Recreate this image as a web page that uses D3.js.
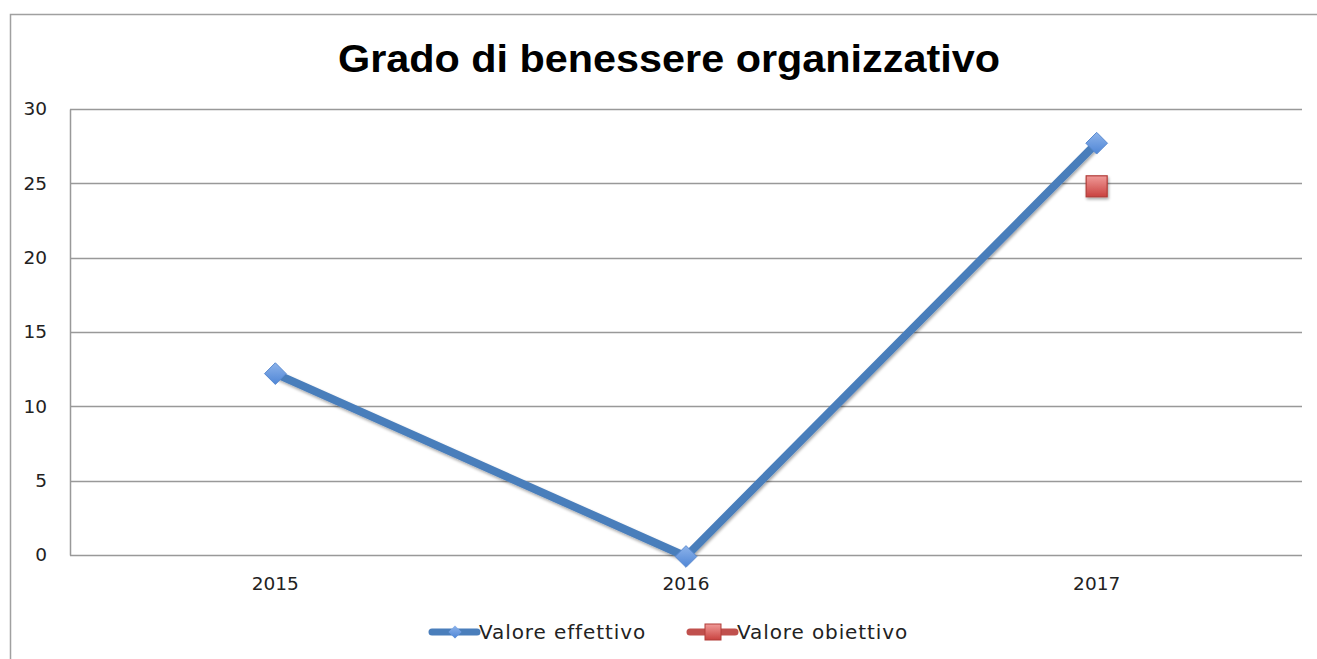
<!DOCTYPE html>
<html>
<head>
<meta charset="utf-8">
<script src="https://cdn.jsdelivr.net/npm/d3@7"></script>
<style>
  body { margin: 0; background: #fff; }
  svg { display: block; }
  .tick text { font-family: "DejaVu Sans", sans-serif; font-size: 18.5px; fill: #222; }
</style>
</head>
<body>
<div id="chart"></div>
<script>
// chart data
const years = ["2015", "2016", "2017"];
const valoreEffettivo = [12.2, -0.1, 27.7];
const valoreObiettivo = [null, null, 24.8];
const yTicks = [0, 5, 10, 15, 20, 25, 30];
const seriesNames = ["Valore effettivo", "Valore obiettivo"];

const W = 1317, H = 659;
const margin = {top: 109, right: 15, bottom: 104, left: 70};
const width = W - margin.left - margin.right;
const height = H - margin.top - margin.bottom;

const blue = "#4a7ebb", red = "#c0504d";

const svg = d3.select("#chart").append("svg")
    .attr("width", W)
    .attr("height", H);

// outer frame
svg.append("rect")
    .attr("x", 10.5).attr("y", 14.5)
    .attr("width", W + 20).attr("height", H + 20)
    .attr("fill", "none")
    .attr("stroke", "#a0a0a0")
    .attr("stroke-width", 1.5);

// title
svg.append("text")
    .attr("x", 669).attr("y", 72)
    .attr("text-anchor", "middle")
    .attr("textLength", 662)
    .attr("lengthAdjust", "spacingAndGlyphs")
    .style("font-family", "'Liberation Sans', Arial, sans-serif")
    .style("font-weight", "bold")
    .style("font-size", "38px")
    .style("fill", "#000")
    .text("Grado di benessere organizzativo");

const g = svg.append("g")
    .attr("transform", `translate(${margin.left},${margin.top})`);

// scales
const x = d3.scaleBand().domain(years).range([0, width]);
const y = d3.scaleLinear().domain([0, 30]).range([height, 0]);

// gridlines
g.selectAll("line.grid")
    .data(yTicks)
    .enter().append("line")
    .attr("class", "grid")
    .attr("x1", 0).attr("x2", width)
    .attr("y1", d => Math.round(y(d)) + 0.5)
    .attr("y2", d => Math.round(y(d)) + 0.5)
    .attr("stroke", "#999")
    .attr("stroke-width", 1.5);

// axes
const yAxis = g.append("g")
    .call(d3.axisLeft(y).tickValues(yTicks).tickSize(0).tickPadding(23));
yAxis.select(".domain").attr("stroke", "#999").attr("stroke-width", 1.5);

const xAxis = g.append("g")
    .attr("transform", `translate(0,${height})`)
    .call(d3.axisBottom(x).tickSize(0).tickPadding(22));
xAxis.select(".domain").remove();

// shadow filter
const defs = svg.append("defs");
const f = defs.append("filter").attr("id", "shadow").attr("x", "-20%").attr("y", "-20%").attr("width", "150%").attr("height", "150%");
f.append("feGaussianBlur").attr("in", "SourceAlpha").attr("stdDeviation", 1.5);
f.append("feOffset").attr("dx", 1).attr("dy", 2).attr("result", "ob");
f.append("feComponentTransfer").append("feFuncA").attr("type", "linear").attr("slope", 0.35);
const fm = f.append("feMerge");
fm.append("feMergeNode");
fm.append("feMergeNode").attr("in", "SourceGraphic");

const gradB = defs.append("linearGradient").attr("id", "gb").attr("x1", 0).attr("y1", 0).attr("x2", 0).attr("y2", 1);
gradB.append("stop").attr("offset", "0%").attr("stop-color", "#8db3ea");
gradB.append("stop").attr("offset", "100%").attr("stop-color", "#4f86d6");
const gradR = defs.append("linearGradient").attr("id", "gr").attr("x1", 0).attr("y1", 0).attr("x2", 0).attr("y2", 1);
gradR.append("stop").attr("offset", "0%").attr("stop-color", "#f09a98");
gradR.append("stop").attr("offset", "100%").attr("stop-color", "#c9423f");

const cx = d => x(d) + x.bandwidth() / 2;

// effettivo line
const line = d3.line()
    .defined(d => d.v != null)
    .x(d => cx(d.year))
    .y(d => y(d.v));

const effData = years.map((yr, i) => ({year: yr, v: valoreEffettivo[i]}));
g.append("path")
    .datum(effData)
    .attr("d", line)
    .attr("fill", "none")
    .attr("stroke", blue)
    .attr("stroke-width", 8)
    .attr("stroke-linejoin", "round")
    .attr("filter", "url(#shadow)");

const diamond = d3.symbol().type(d3.symbolDiamond2).size(300);
g.selectAll("path.dia")
    .data(effData)
    .enter().append("path")
    .attr("class", "dia")
    .attr("d", diamond)
    .attr("transform", d => `translate(${cx(d.year)},${y(d.v)})`)
    .attr("fill", "url(#gb)")
    .attr("stroke", "#5a8ad0")
    .attr("stroke-width", 1);

// obiettivo markers
const objData = years.map((yr, i) => ({year: yr, v: valoreObiettivo[i]})).filter(d => d.v != null);
g.selectAll("rect.sq")
    .data(objData)
    .enter().append("rect")
    .attr("class", "sq")
    .attr("x", d => cx(d.year) - 10.5)
    .attr("y", d => y(d.v) - 10.5)
    .attr("width", 21).attr("height", 21)
    .attr("fill", "url(#gr)")
    .attr("stroke", "#b13c39")
    .attr("stroke-width", 1.2)
    .attr("filter", "url(#shadow)");

// legend
const legend = svg.append("g").attr("transform", "translate(0,632)");
const legItems = [
    {name: seriesNames[0], color: blue, x0: 430, marker: "dia"},
    {name: seriesNames[1], color: red, x0: 688, marker: "sq"}
];
legItems.forEach(it => {
    const lg = legend.append("g").attr("transform", `translate(${it.x0},0)`);
    lg.append("line")
        .attr("x1", 2).attr("x2", 47)
        .attr("y1", 0).attr("y2", 0)
        .attr("stroke", it.color)
        .attr("stroke-width", 7)
        .attr("stroke-linecap", "round");
    if (it.marker === "dia") {
        lg.append("path")
            .attr("d", d3.symbol().type(d3.symbolDiamond2).size(110))
            .attr("transform", "translate(25,0)")
            .attr("fill", "url(#gb)");
    } else {
        lg.append("rect")
            .attr("x", 17).attr("y", -8)
            .attr("width", 16).attr("height", 16)
            .attr("fill", "url(#gr)")
            .attr("stroke", "#b13c39");
    }
    lg.append("text")
        .attr("x", 49).attr("y", 7)
        .style("font-family", "'DejaVu Sans', sans-serif")
        .style("font-size", "20px")
        .style("letter-spacing", "0.9px")
        .style("fill", "#222")
        .text(it.name);
});
</script>
</body>
</html>
